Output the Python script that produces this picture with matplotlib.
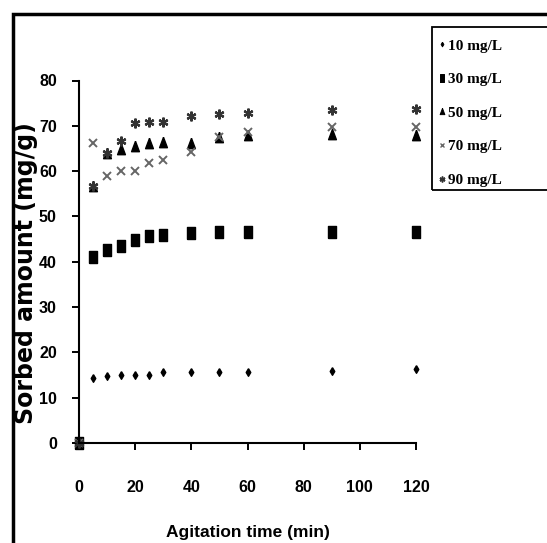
import numpy as np
import matplotlib
matplotlib.use("Agg")
import matplotlib.pyplot as plt
from matplotlib.lines import Line2D
from matplotlib.patches import Rectangle

# agitation time (min) and sorbed amount (mg/g) per initial concentration
time = [0, 5, 10, 15, 20, 25, 30, 40, 50, 60, 90, 120]
c10 = [0, 14.4, 14.7, 15.0, 15.0, 15.0, 15.7, 15.7, 15.7, 15.7, 15.9, 16.3]
c30 = [0, 41.1, 42.7, 43.4, 44.9, 45.6, 45.8, 46.3, 46.6, 46.6, 46.6, 46.6]
c50 = [0, 56.7, 64.1, 64.8, 65.6, 66.3, 66.5, 66.3, 67.6, 68.0, 68.3, 68.0]
c70 = [0, 66.3, 58.9, 60.0, 60.0, 61.9, 62.5, 64.3, 67.6, 68.6, 69.8, 69.8]
c90 = [0, 56.7, 64.1, 66.7, 70.6, 70.9, 70.9, 72.2, 72.6, 72.8, 73.4, 73.7]
labels = ["10 mg/L", "30 mg/L", "50 mg/L", "70 mg/L", "90 mg/L"]
xticks = [0, 20, 40, 60, 80, 100, 120]
yticks = [0, 10, 20, 30, 40, 50, 60, 70, 80]

W, H = 547, 543
narrow = ["Liberation Sans Narrow", "Liberation Sans", "DejaVu Sans"]

# vertically stretched markers (the original is squashed sideways)
diamond = [(0, 1), (0.6, 0), (0, -1), (-0.6, 0), (0, 1)]
rect = [(-0.6, -1), (0.6, -1), (0.6, 1), (-0.6, 1), (-0.6, -1)]
tri = [(0, 1), (0.75, -1), (-0.75, -1), (0, 1)]

styles = [
    dict(marker=diamond, ms=5.5, color="black"),
    dict(marker=rect, ms=8.5, color="black"),
    dict(marker=tri, ms=7.5, color="black"),
    dict(marker="x", ms=5.5, color="#666666", mew=1.4),
    dict(marker=(6, 2, 0), ms=7, color="#333333", mew=1.6),
]

fig = plt.figure(figsize=(W / 100, H / 100), dpi=100)
ax = fig.add_axes([79 / W, 1 - 443 / H, (416 - 79) / W, (443 - 80.5) / H])

for vals, st, lab in zip([c10, c30, c50, c70, c90], styles, labels):
    ax.plot(time, vals, ls="none", label=lab, clip_on=False, **st)

ax.set_xlim(0, 120)
ax.set_ylim(0, 80)
ax.set_xticks(xticks)
ax.set_yticks(yticks)
for sp in ["top", "right"]:
    ax.spines[sp].set_visible(False)
for sp in ["left", "bottom"]:
    ax.spines[sp].set_linewidth(1.5)
ax.tick_params(axis="x", length=5, width=1.4, pad=22)
ax.tick_params(axis="y", length=5, width=1.4, pad=11)
for t in ax.get_xticklabels() + ax.get_yticklabels():
    t.set_family(narrow)
    t.set_fontweight("bold")
    t.set_fontsize(11.5)

fig.text(26 / W, 1 - 273 / H, "Sorbed amount (mg/g)", rotation=90, ha="center", va="center",
         fontsize=17, fontweight="bold", family="DejaVu Sans")
fig.text(248 / W, 1 - 532 / H, "Agitation time (min)", ha="center", va="center",
         fontsize=12.5, fontweight="bold", family=narrow)

# outer frame (cut by the image edge) and legend box
fig.patches.append(Rectangle((13 / W, -0.1), 1.2, 1.1 - 14 / H, transform=fig.transFigure,
                             fill=False, ec="black", lw=2.5))
fig.patches.append(Rectangle((432 / W, 1 - 190 / H), 0.3, 163 / H, transform=fig.transFigure,
                             fill=False, ec="black", lw=1.3))

handles = [Line2D([], [], ls="none", marker=st["marker"], color=st["color"],
                  ms=st["ms"] * 0.6, mew=st.get("mew", 1) * 0.7) for st in styles]
fig.legend(handles, labels, loc="upper left", bbox_to_anchor=(437 / W, 1 - 39 / H),
           frameon=False, borderpad=0, borderaxespad=0, handlelength=0.6,
           handletextpad=0.15, labelspacing=1.3,
           prop=dict(family="Liberation Serif", weight="bold", size=11))

fig.savefig("out.png", dpi=100)
